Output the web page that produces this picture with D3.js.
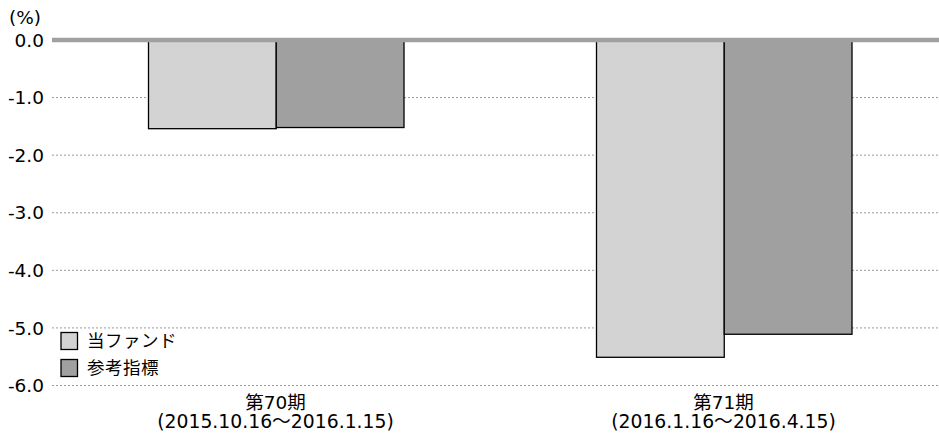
<!DOCTYPE html>
<html><head><meta charset="utf-8">
<script src="https://cdn.jsdelivr.net/npm/d3@7"></script>
<style>body{margin:0;background:#fff;} svg{display:block;font-family:"DejaVu Sans","Noto Sans CJK JP",sans-serif;}</style>
</head><body>
<svg id="c" width="939" height="433"></svg>
<script>
const categories = ["第70期", "第71期"];
const periods = ["(2015.10.16〜2016.1.15)", "(2016.1.16〜2016.4.15)"];
const seriesNames = ["当ファンド", "参考指標"];
const fundValues = [-1.54, -5.51];
const indexValues = [-1.52, -5.11];
const yTicks = [0, -1, -2, -3, -4, -5, -6];
const colors = ["#d3d3d3", "#a0a0a0"];

const svg = d3.select("#c");
const left = 52, right = 939;
const y = d3.scaleLinear().domain([0, -6]).range([40, 385.5]);
const x0 = d3.scaleBand().domain(categories).range([52, 948]).padding(0);
const x1 = d3.scaleBand().domain(seriesNames).range([96.5, 352]).padding(0);

// grid
svg.append("g").selectAll("line").data(yTicks.filter(d => d !== 0)).join("line")
  .attr("x1", left).attr("x2", right)
  .attr("y1", d => y(d)).attr("y2", d => y(d))
  .attr("stroke", "#9a9a9a").attr("stroke-width", 1).attr("stroke-dasharray", "2,2");

// y tick labels
svg.append("g").selectAll("text").data(yTicks).join("text")
  .attr("x", 44).attr("y", d => y(d)).attr("dy", "0.36em")
  .attr("text-anchor", "end").attr("font-size", 18.5).attr("fill", "#000")
  .text(d => d3.format(".1f")(d).replace("\u2212", "-"));

svg.append("text").attr("x", 9).attr("y", 24).attr("font-size", 18.5).text("(%)");

// bars
const data = categories.map((c, i) => ({c, vals: [fundValues[i], indexValues[i]]}));
const g = svg.append("g").selectAll("g").data(data).join("g")
  .attr("transform", d => `translate(${x0(d.c)},0)`);
g.selectAll("rect").data(d => d.vals.map((v, j) => ({name: seriesNames[j], v, j}))).join("rect")
  .attr("x", d => x1(d.name)).attr("width", x1.bandwidth())
  .attr("y", y(0)).attr("height", d => y(d.v) - y(0))
  .attr("fill", d => colors[d.j]).attr("stroke", "#000").attr("stroke-width", 1.3);

// zero line
svg.append("line").attr("x1", left).attr("x2", right).attr("y1", y(0)).attr("y2", y(0))
  .attr("stroke", "#a0a0a0").attr("stroke-width", 4.5);

// category labels
const cx = d => x0(d) + x0.bandwidth() / 2 - 0.5;
svg.append("g").selectAll("text").data(categories).join("text")
  .attr("text-anchor", "middle").attr("font-size", 18.5).attr("fill", "#000")
  .attr("x", cx).attr("y", 409).text(d => d);
svg.append("g").selectAll("text").data(categories).join("text")
  .attr("text-anchor", "middle").attr("font-size", 18.8).attr("fill", "#000")
  .attr("x", cx).attr("y", 428).text((d, i) => periods[i]);

// legend
const lg = svg.append("g").selectAll("g").data(seriesNames).join("g")
  .attr("transform", (d, i) => `translate(61,${332.5 + i * 27})`);
lg.append("rect").attr("width", 16.5).attr("height", 17)
  .attr("fill", (d, i) => colors[i]).attr("stroke", "#000").attr("stroke-width", 1.3);
lg.append("text").attr("x", 26).attr("y", 8.5).attr("dy", "0.35em").attr("font-size", 17.5).attr("letter-spacing", 0.5).text(d => d);
</script>
</body></html>
